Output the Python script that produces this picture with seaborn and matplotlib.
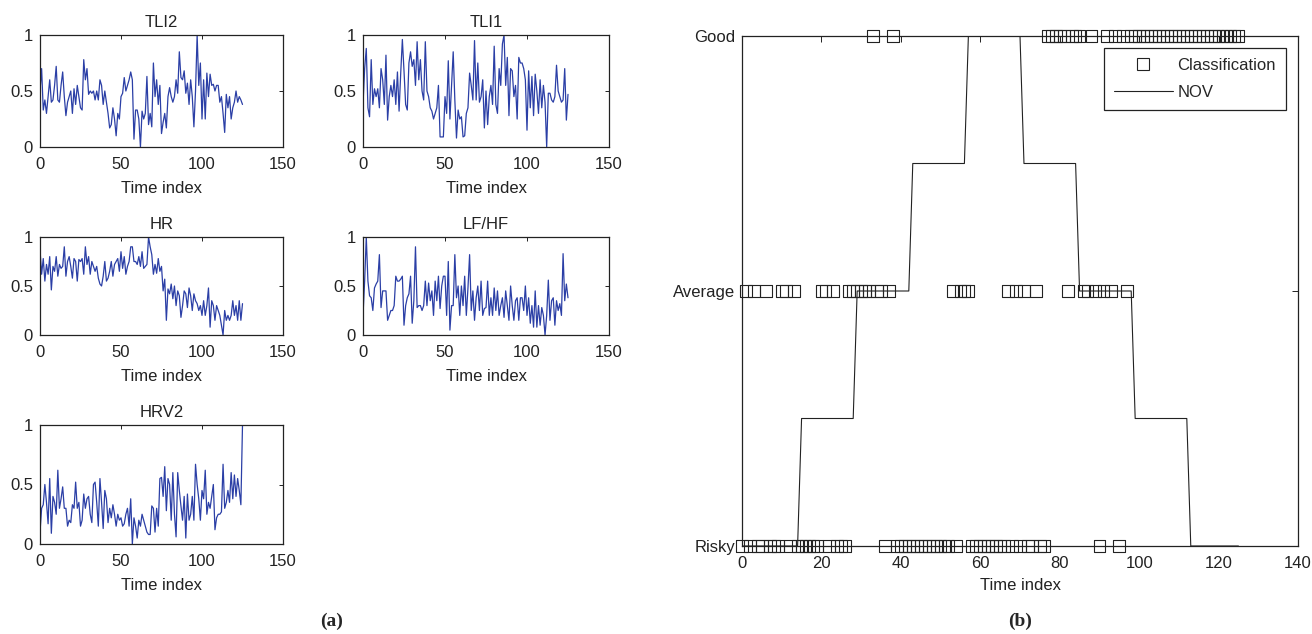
import numpy as np
import pandas as pd
import matplotlib
matplotlib.use("Agg")
import matplotlib.pyplot as plt
from matplotlib.lines import Line2D
import seaborn as sns

# ---------------- data ----------------
tli2 = [0.50, 0.70, 0.33, 0.42, 0.30, 0.45, 0.60, 0.40, 0.42, 0.55,
        0.72, 0.42, 0.40, 0.55, 0.67, 0.45, 0.28, 0.40, 0.45, 0.50,
        0.30, 0.52, 0.38, 0.55, 0.45, 0.35, 0.33, 0.78, 0.60, 0.70,
        0.47, 0.50, 0.48, 0.50, 0.42, 0.50, 0.42, 0.60, 0.55, 0.38,
        0.50, 0.40, 0.30, 0.17, 0.20, 0.35, 0.25, 0.10, 0.30, 0.25,
        0.45, 0.48, 0.62, 0.50, 0.55, 0.60, 0.67, 0.60, 0.07, 0.33,
        0.33, 0.25, 0.00, 0.32, 0.25, 0.30, 0.63, 0.20, 0.30, 0.18,
        0.75, 0.45, 0.60, 0.38, 0.55, 0.12, 0.22, 0.30, 0.17, 0.45,
        0.53, 0.45, 0.40, 0.45, 0.60, 0.48, 0.85, 0.62, 0.60, 0.68,
        0.48, 0.57, 0.38, 0.60, 0.45, 0.18, 0.50, 1.00, 0.55, 0.75,
        0.25, 0.60, 0.25, 0.66, 0.45, 0.65, 0.55, 0.56, 0.50, 0.55,
        0.55, 0.40, 0.45, 0.30, 0.13, 0.47, 0.35, 0.45, 0.25, 0.35,
        0.40, 0.50, 0.40, 0.45, 0.42, 0.38]

tli1 = [0.38, 0.70, 0.88, 0.35, 0.27, 0.78, 0.38, 0.52, 0.45, 0.52,
        0.35, 0.70, 0.60, 0.38, 0.82, 0.24, 0.45, 0.55, 0.45, 0.60,
        0.38, 0.67, 0.32, 0.66, 0.96, 0.68, 0.38, 0.33, 0.75, 0.85,
        0.72, 0.78, 0.55, 0.94, 0.60, 0.78, 0.50, 0.42, 0.94, 0.50,
        0.45, 0.35, 0.32, 0.25, 0.30, 0.35, 0.55, 0.09, 0.09, 0.09,
        0.45, 0.30, 0.77, 0.25, 0.55, 0.85, 0.42, 0.08, 0.33, 0.25,
        0.27, 0.09, 0.10, 0.30, 0.35, 0.66, 0.55, 0.42, 0.95, 0.42,
        0.75, 0.40, 0.45, 0.60, 0.17, 0.50, 0.20, 0.45, 0.55, 0.38,
        0.90, 0.38, 0.30, 0.70, 0.55, 0.92, 1.00, 0.55, 0.80, 0.28,
        0.70, 0.68, 0.45, 0.55, 0.25, 0.80, 0.75, 0.75, 0.70, 0.60,
        0.15, 0.68, 0.35, 0.63, 0.28, 0.65, 0.50, 0.30, 0.60, 0.35,
        0.55, 0.40, 0.00, 0.48, 0.48, 0.42, 0.40, 0.45, 0.73, 0.50,
        0.45, 0.40, 0.42, 0.70, 0.24, 0.47]

hr = [0.87, 0.62, 0.78, 0.55, 0.72, 0.62, 0.80, 0.46, 0.70, 0.65,
      0.80, 0.60, 0.72, 0.68, 0.70, 0.90, 0.60, 0.75, 0.80, 0.70,
      0.58, 0.78, 0.75, 0.55, 0.77, 0.75, 0.78, 0.62, 0.90, 0.72,
      0.80, 0.62, 0.75, 0.70, 0.65, 0.70, 0.58, 0.52, 0.50, 0.60,
      0.75, 0.55, 0.58, 0.65, 0.75, 0.60, 0.72, 0.75, 0.78, 0.65,
      0.85, 0.68, 0.80, 0.62, 0.70, 0.75, 0.90, 0.90, 0.75, 0.75,
      0.72, 0.80, 0.70, 0.85, 0.68, 0.70, 0.72, 1.00, 0.90, 0.82,
      0.62, 0.72, 0.63, 0.78, 0.65, 0.70, 0.45, 0.57, 0.15, 0.47,
      0.42, 0.52, 0.37, 0.50, 0.30, 0.45, 0.40, 0.18, 0.30, 0.45,
      0.42, 0.28, 0.48, 0.40, 0.25, 0.42, 0.35, 0.32, 0.25, 0.30,
      0.20, 0.35, 0.20, 0.30, 0.48, 0.08, 0.35, 0.30, 0.15, 0.30,
      0.25, 0.20, 0.10, 0.00, 0.25, 0.15, 0.20, 0.15, 0.20, 0.35,
      0.20, 0.30, 0.15, 0.35, 0.15, 0.32]

lfhf = [0.20, 0.55, 1.00, 0.55, 0.40, 0.38, 0.25, 0.48, 0.52, 0.55,
        0.82, 0.28, 0.45, 0.45, 0.45, 0.15, 0.20, 0.25, 0.25, 0.30,
        0.60, 0.55, 0.55, 0.57, 0.60, 0.10, 0.30, 0.38, 0.42, 0.60,
        0.12, 0.35, 0.90, 0.28, 0.30, 0.30, 0.25, 0.30, 0.55, 0.30,
        0.53, 0.35, 0.45, 0.20, 0.55, 0.35, 0.60, 0.27, 0.50, 0.60,
        0.60, 0.20, 0.75, 0.05, 0.30, 0.30, 0.82, 0.38, 0.50, 0.20,
        0.50, 0.30, 0.60, 0.20, 0.48, 0.82, 0.25, 0.45, 0.15, 0.38,
        0.50, 0.25, 0.55, 0.20, 0.27, 0.28, 0.55, 0.20, 0.38, 0.20,
        0.48, 0.25, 0.45, 0.20, 0.30, 0.38, 0.18, 0.45, 0.30, 0.15,
        0.50, 0.30, 0.15, 0.35, 0.38, 0.15, 0.38, 0.38, 0.25, 0.50,
        0.20, 0.38, 0.12, 0.30, 0.08, 0.45, 0.08, 0.30, 0.10, 0.28,
        0.20, 0.00, 0.20, 0.56, 0.15, 0.35, 0.38, 0.10, 0.35, 0.25,
        0.32, 0.20, 0.83, 0.35, 0.52, 0.38]

hrv2 = [0.10, 0.30, 0.33, 0.50, 0.35, 0.17, 0.55, 0.09, 0.40, 0.35,
        0.25, 0.62, 0.30, 0.38, 0.48, 0.30, 0.30, 0.15, 0.20, 0.18,
        0.33, 0.30, 0.52, 0.30, 0.35, 0.15, 0.20, 0.42, 0.30, 0.38,
        0.40, 0.25, 0.18, 0.50, 0.52, 0.35, 0.15, 0.55, 0.35, 0.13,
        0.45, 0.38, 0.18, 0.30, 0.22, 0.33, 0.25, 0.15, 0.25, 0.20,
        0.22, 0.15, 0.17, 0.25, 0.30, 0.15, 0.38, 0.00, 0.22, 0.15,
        0.05, 0.20, 0.15, 0.25, 0.20, 0.15, 0.10, 0.08, 0.08, 0.32,
        0.30, 0.10, 0.30, 0.15, 0.55, 0.56, 0.40, 0.65, 0.28, 0.55,
        0.50, 0.20, 0.60, 0.25, 0.06, 0.60, 0.45, 0.32, 0.20, 0.40,
        0.05, 0.42, 0.20, 0.25, 0.40, 0.20, 0.67, 0.50, 0.38, 0.20,
        0.45, 0.38, 0.62, 0.25, 0.35, 0.30, 0.40, 0.50, 0.12, 0.22,
        0.25, 0.25, 0.27, 0.67, 0.30, 0.35, 0.45, 0.35, 0.60, 0.38,
        0.58, 0.40, 0.55, 0.45, 0.33, 1.00]

series_names = ["TLI2", "TLI1", "HR", "LF/HF", "HRV2"]

# classification (time indices per class)
risky_t = [0, 2, 4, 5, 7, 8, 9, 12, 14, 15, 16, 17, 18, 19, 22, 24, 25, 26, 36,
           39, 40, 41, 42, 43, 44, 45, 46, 47, 48, 49, 50, 51, 52, 54,
           58, 59, 60, 61, 62, 63, 64, 65, 66, 68, 70, 72, 73, 75, 76, 90, 95]
average_t = [1, 3, 6, 10, 11, 13, 20, 21, 23, 27, 28, 29, 30, 31, 32, 34, 35, 37,
             53, 55, 56, 57, 67, 69, 71, 74, 82, 86, 87, 89, 91, 93, 97]
good_t = [33, 38, 77, 78, 79, 80, 81, 83, 84, 85, 88, 92, 94, 96, 98, 99, 100,
          101, 102, 103, 104, 105, 106, 107, 108, 109, 110, 111, 112, 113, 114,
          115, 116, 117, 118, 119, 120, 121, 122, 123, 124, 125]
class_labels = ["Risky", "Average", "Good"]

# NOV step curve (breakpoints)
nov_t = [0, 14, 15, 28, 29, 42, 43, 56, 57, 70, 71, 84, 85, 98, 99, 112, 113, 125]
nov_v = [0, 0, 0.5, 0.5, 1, 1, 1.5, 1.5, 2, 2, 1.5, 1.5, 1, 1, 0.5, 0.5, 0, 0]

# ---------------- style ----------------
sns.set_theme(style="white")
plt.rcParams['font.family'] = ['Liberation Sans', 'DejaVu Sans']
plt.rcParams['font.size'] = 12
plt.rcParams['axes.linewidth'] = 0.9

W, H = 1312, 634
fig = plt.figure(figsize=(W / 100, H / 100), dpi=100)


def px_axes(left, top, right, bottom):
    return fig.add_axes([left / W, 1 - bottom / H, (right - left) / W, (bottom - top) / H])


blue = "#2b3fa6"
dark = "#222222"
small_boxes = [
    (40, 35, 283, 147),
    (363, 35, 609, 147),
    (40, 237, 283, 335),
    (363, 237, 609, 335),
    (40, 425, 283, 544),
]
all_series = [tli2, tli1, hr, lfhf, hrv2]

for (l, t, r, b), name, vals in zip(small_boxes, series_names, all_series):
    ax = px_axes(l, t, r, b)
    df = pd.DataFrame({"t": np.arange(len(vals)), "v": vals})
    sns.lineplot(data=df, x="t", y="v", ax=ax, color=blue, linewidth=0.9)
    ax.set_xlim(0, 150)
    ax.set_ylim(0, 1)
    ax.set_xticks([0, 50, 100, 150])
    ax.set_yticks([0, 0.5, 1])
    ax.set_yticklabels(["0", "0.5", "1"])
    ax.tick_params(direction="in", top=True, right=True, length=3, width=0.7,
                   labelsize=12, colors=dark)
    ax.tick_params(axis="x", pad=7)
    ax.tick_params(axis="y", pad=5)
    ax.set_title(name, fontsize=12, pad=6, color=dark)
    ax.set_xlabel("Time index", fontsize=12, labelpad=7, color=dark)
    ax.set_ylabel("")
    for sp in ax.spines.values():
        sp.set_color(dark)
        sp.set_linewidth(0.9)

# ---------------- right panel ----------------
axr = px_axes(742, 36, 1298, 546)
cls = pd.DataFrame({
    "t": risky_t + average_t + good_t,
    "level": [0] * len(risky_t) + [1] * len(average_t) + [2] * len(good_t),
})
sns.scatterplot(data=cls, x="t", y="level", ax=axr, marker="s", s=72,
                color="black", linewidth=0.8, clip_on=False, zorder=3)
coll = axr.collections[-1]
coll.set_facecolor("none")
coll.set_edgecolor(dark)

nov = pd.DataFrame({"t": nov_t, "v": nov_v})
sns.lineplot(data=nov, x="t", y="v", ax=axr, color=dark, linewidth=0.8,
             sort=False, estimator=None)

axr.set_xlim(0, 140)
axr.set_ylim(0, 2)
axr.set_xticks(range(0, 141, 20))
axr.set_yticks([0, 1, 2])
axr.set_yticklabels(class_labels)
axr.tick_params(direction="in", top=True, right=True, length=4, width=0.7,
                labelsize=12, colors=dark)
axr.tick_params(axis="x", pad=7.5)
axr.tick_params(axis="y", pad=5)
axr.set_xlabel("Time index", fontsize=12, labelpad=5, color=dark)
axr.set_ylabel("")
for sp in axr.spines.values():
    sp.set_color(dark)
    sp.set_linewidth(0.9)

handles = [
    Line2D([], [], linestyle="none", marker="s", markersize=8.5,
           markerfacecolor="none", markeredgecolor=dark, markeredgewidth=0.8),
    Line2D([], [], color=dark, linewidth=0.8),
]
leg = axr.legend(handles, ["Classification", "NOV"], loc="upper right",
                 bbox_to_anchor=(1 - 12 / 556, 1 - 12 / 510), borderaxespad=0,
                 fancybox=False, framealpha=1, edgecolor=dark,
                 handlelength=3.5, handletextpad=0.3, borderpad=0.6,
                 labelspacing=0.7, fontsize=12)
leg.get_frame().set_linewidth(0.9)

fig.text(332 / W, 1 - 621 / H, "(a)", fontsize=14, fontweight="bold",
         family="Liberation Serif", ha="center", va="center")
fig.text(1020 / W, 1 - 621 / H, "(b)", fontsize=14, fontweight="bold",
         family="Liberation Serif", ha="center", va="center")

fig.savefig("out.png", dpi=100)
